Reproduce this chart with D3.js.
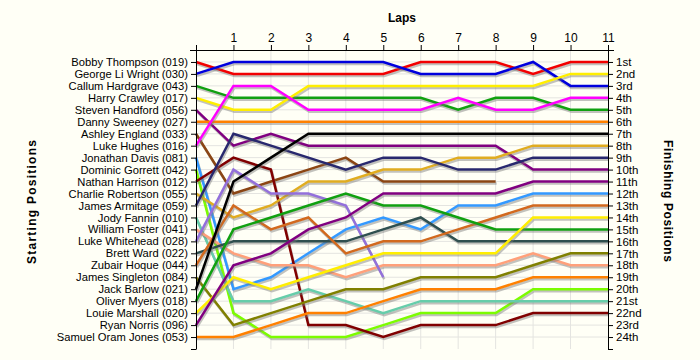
<!DOCTYPE html>
<html>
<head>
<meta charset="utf-8">
<script src="https://cdn.jsdelivr.net/npm/d3@7"></script>
<style>
  body { margin: 0; background: #fffff6; }
  svg text { font-family: "Liberation Sans", Arial, sans-serif; fill: #000; }
  .axis path, .axis line { stroke: #000; }
  .grid line { stroke: #e4e4e0; }
</style>
</head>
<body>
<div id="chart"></div>
<script>
// starting grid, top to bottom
var drivers = [
  "Bobby Thompson (019)", "George Li Wright (030)", "Callum Hardgrave (043)",
  "Harry Crawley (017)", "Steven Handford (056)", "Danny Sweeney (027)",
  "Ashley England (033)", "Luke Hughes (016)", "Jonathan Davis (081)",
  "Dominic Gorrett (042)", "Nathan Harrison (012)", "Charlie Robertson (055)",
  "James Armitage (059)", "Jody Fannin (010)", "William Foster (041)",
  "Luke Whitehead (028)", "Brett Ward (022)", "Zubair Hoque (044)",
  "James Singleton (084)", "Jack Barlow (021)", "Oliver Myers (018)",
  "Louie Marshall (020)", "Ryan Norris (096)", "Samuel Oram Jones (053)"
];

var lineColors = [
  "#f20000", "#0000dd", "#10a010", "#ffee00", "#800080", "#ff8000",
  "#8b4513", "#ff00ff", "#3399ff", "#7cfc00", "#800000", "#e0ac20",
  "#28286e", "#66cdaa", "#ffa07a", "#9370db", "#2f4f4f", "#d2691e",
  "#808000", "#000000", "#10a010", "#ffee00", "#800080", "#ff8000"
];

// position after each lap (lap 0 = grid); shorter rows = retired
var positions = [
  [1, 2, 2, 2, 2, 2, 1, 1, 1, 2, 1, 1],
  [2, 1, 1, 1, 1, 1, 2, 2, 2, 1, 3, 3],
  [3, 4, 4, 4, 4, 4, 4, 5, 4, 4, 5, 5],
  [4, 5, 5, 3, 3, 3, 3, 3, 3, 3, 2, 2],
  [5, 8, 7, 8, 8, 8, 8, 8, 8, 10, 10, 10],
  [6, 6, 6, 6, 6, 6, 6, 6, 6, 6, 6, 6],
  [7, 12, 11, 10, 9, 11, 11, 11, 11],
  [8, 3, 3, 5, 5, 5, 5, 4, 5, 5, 4, 4],
  [9, 20, 19, 17, 15, 14, 15, 13, 13, 12, 12, 12],
  [10, 22, 24, 24, 24, 23, 22, 22, 22, 20, 20, 20],
  [11, 9, 10, 23, 23, 24, 23, 23, 23, 22, 22, 22],
  [12, 14, 13, 11, 11, 10, 10, 9, 9, 8, 8, 8],
  [13, 7, 8, 9, 10, 9, 9, 10, 10, 9, 9, 9],
  [14, 21, 21, 20, 21, 22, 21, 21, 21, 21, 21, 21],
  [15, 17, 18, 18, 19, 18, 18, 18, 18, 17, 18, 18],
  [16, 10, 12, 12, 13, 19],
  [17, 16, 16, 16, 16, 15, 14, 16, 16, 16, 16, 16],
  [18, 13, 15, 14, 17, 16, 16, 15, 14, 13, 13, 13],
  [19, 23, 22, 21, 20, 20, 19, 19, 19, 18, 17, 17],
  [20, 11, 9, 7, 7, 7, 7, 7, 7, 7, 7, 7],
  [21, 15, 14, 13, 12, 13, 13, 14, 15, 15, 15, 15],
  [22, 19, 20, 19, 18, 17, 17, 17, 17, 14, 14, 14],
  [23, 18, 17, 15, 14, 12, 12, 12, 12, 11, 11, 11],
  [24, 24, 23, 22, 22, 21, 20, 20, 20, 19, 19, 19]
];

var laps = d3.range(0, 12);
var finishLabels = [
  "1st", "2nd", "3rd", "4th", "5th", "6th", "7th", "8th", "9th", "10th",
  "11th", "12th", "13th", "14th", "15th", "16th", "17th", "18th", "19th",
  "20th", "21st", "22nd", "23rd", "24th"
];

var chartW = 700, chartH = 360;
var plotL = 196, plotR = 608, plotT = 50, plotB = 349;

var x = d3.scaleLinear().domain([0, 11]).range([plotL, plotR]);
var y = d3.scaleLinear().domain([0, 25]).range([plotT, plotB]);
var slots = d3.range(0, 26);

var svg = d3.select("#chart").append("svg")
  .attr("width", chartW)
  .attr("height", chartH)
  .style("background-color", "#fffff6");

// grid
svg.append("g").attr("class", "grid")
  .selectAll("line").data(laps.slice(1, 11)).enter().append("line")
  .attr("x1", function(d) { return x(d); }).attr("x2", function(d) { return x(d); })
  .attr("y1", plotT).attr("y2", plotB);
svg.append("g").attr("class", "grid")
  .selectAll("line").data(d3.range(1, 25)).enter().append("line")
  .attr("x1", plotL).attr("x2", plotR)
  .attr("y1", function(d) { return y(d); }).attr("y2", function(d) { return y(d); });

var line = d3.line()
  .x(function(d, i) { return x(i); })
  .y(function(d) { return y(d); });

positions.forEach(function(p, i) {
  svg.append("path")
    .attr("d", line(p))
    .attr("fill", "none")
    .attr("stroke", "#777")
    .attr("stroke-opacity", 0.45)
    .attr("stroke-width", 2.5)
    .attr("transform", "translate(1,2)");
  svg.append("path")
    .attr("d", line(p))
    .attr("fill", "none")
    .attr("stroke", lineColors[i])
    .attr("stroke-width", 2.5);
});

// axes
svg.append("g")
  .attr("class", "axis")
  .attr("transform", "translate(0," + plotT + ")")
  .call(d3.axisTop(x).tickValues(laps).tickSize(5).tickSizeOuter(0)
    .tickFormat(function(d) { return d === 0 ? "" : d; }))
  .call(function(g) {
    g.select(".domain").attr("d", "M190,0.5H614");
    g.selectAll("text").attr("font-size", "12px").attr("font-family", null);
  });

svg.append("g")
  .attr("class", "axis")
  .attr("transform", "translate(" + plotL + ",0)")
  .call(d3.axisLeft(y).tickValues(slots).tickSize(5).tickSizeOuter(0)
    .tickFormat(function(d) { return drivers[d - 1] || ""; }))
  .call(function(g) {
    g.selectAll("text").attr("font-size", "11.2px").attr("font-family", null);
  });

svg.append("g")
  .attr("class", "axis")
  .attr("transform", "translate(" + plotR + ",0)")
  .call(d3.axisRight(y).tickValues(slots).tickSize(5).tickSizeOuter(0)
    .tickFormat(function(d) { return finishLabels[d - 1] || ""; }))
  .call(function(g) {
    g.selectAll("text").attr("font-size", "11.5px").attr("font-family", null);
  });

// titles
svg.append("text")
  .attr("x", (plotL + plotR) / 2)
  .attr("y", 22)
  .attr("text-anchor", "middle")
  .attr("font-weight", "bold")
  .attr("font-size", "12px")
  .text("Laps");

svg.append("text")
  .attr("transform", "translate(36,202) rotate(-90)")
  .attr("text-anchor", "middle")
  .attr("font-weight", "bold")
  .attr("font-size", "12px")
  .attr("textLength", 124)
  .attr("lengthAdjust", "spacing")
  .text("Starting Positions");

svg.append("text")
  .attr("transform", "translate(664,201) rotate(90)")
  .attr("text-anchor", "middle")
  .attr("font-weight", "bold")
  .attr("font-size", "12px")
  .attr("textLength", 122)
  .attr("lengthAdjust", "spacing")
  .text("Finishing Positions");
</script>
</body>
</html>
